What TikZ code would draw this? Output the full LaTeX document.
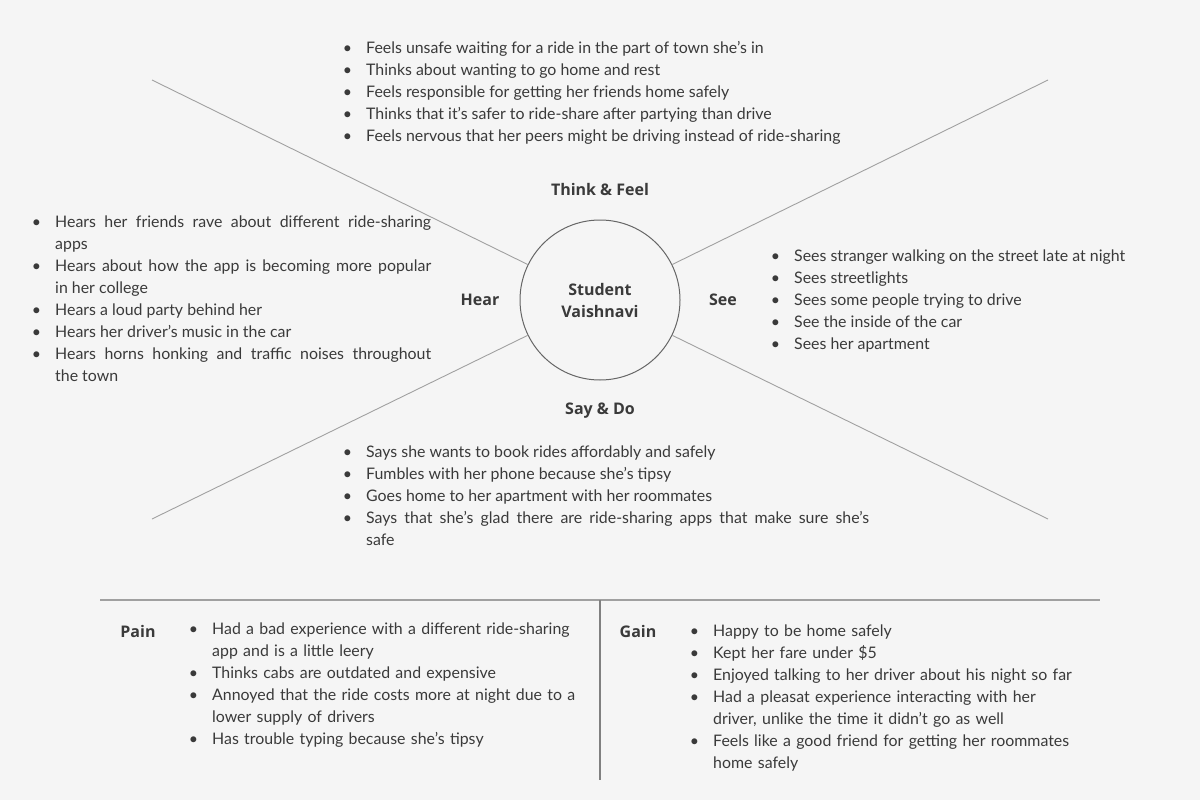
\documentclass[tikz,border=0pt]{standalone}
\usepackage{fontspec}
\setmainfont{Lato}
\newfontfamily\headfont{Open Sans}
\usepackage{enumitem}
\usetikzlibrary{positioning}

\definecolor{bgcol}{HTML}{F5F5F5}
\definecolor{inkcol}{HTML}{3A3A3A}
\definecolor{rulecol}{HTML}{A0A0A0}

\newenvironment{pts}{\begin{itemize}[label=\textbullet, leftmargin=21pt, labelsep=14pt,
  itemsep=0pt, topsep=0pt, parsep=0pt, partopsep=0pt]}{\end{itemize}}

\tikzset{
  ptlist/.style={anchor=north west, inner sep=0pt, text width=#1, text=inkcol,
    align=justify, font=\fontsize{15.9}{22}\selectfont},
  head/.style={text=inkcol, font=\headfont\bfseries\fontsize{16}{22}\selectfont},
  spoke/.style={draw=rulecol, line width=0.9pt}
}

\begin{document}
\begin{tikzpicture}[x=1pt, y=-1pt]
    \fill[bgcol] (0,0) rectangle (1200,800);
    \useasboundingbox (0,0) rectangle (1200,800);

    % centre
    \node[head, circle, draw=black!60, line width=1pt, minimum size=160pt, align=center]
        (persona) at (600,300) {Student\\Vaishnavi};

    % spokes
    \coordinate (tl) at (152,80);
    \coordinate (tr) at (1048,80);
    \coordinate (bl) at (152,519);
    \coordinate (br) at (1048,519);
    \foreach \c in {tl,tr,bl,br}
        \draw[spoke] (\c) -- (persona);

    % quadrant labels
    \node[head] (think) at (600,189) {Think \& Feel};
    \node[head] (hear) at (480,300) {Hear};
    \node[head] (see) at (723,300) {See};
    \node[head] (say) at (600,411) {Say \& Do};

    % quadrant lists
    \node[ptlist=600pt] (thinklist) at (345,31) {\begin{pts}
        \item Feels unsafe waiting for a ride in the part of town she’s in
        \item Thinks about wanting to go home and rest
        \item Feels responsible for getting her friends home safely
        \item Thinks that it’s safer to ride-share after partying than drive
        \item Feels nervous that her peers might be driving instead of ride-sharing
    \end{pts}};

    \node[ptlist=397pt] (hearlist) at (34,205) {\begin{pts}
        \item Hears her friends rave about different ride-sharing\linebreak apps
        \item Hears about how the app is becoming more popular\linebreak in her college
        \item Hears a loud party behind her
        \item Hears her driver’s music in the car
        \item Hears horns honking and traffic noises throughout\linebreak the town
    \end{pts}};

    \node[ptlist=400pt] (seelist) at (773,239) {\begin{pts}
        \item Sees stranger walking on the street late at night
        \item Sees streetlights
        \item Sees some people trying to drive
        \item See the inside of the car
        \item Sees her apartment
    \end{pts}};

    \node[ptlist=524pt] (saylist) at (345,435) {\begin{pts}
        \item Says she wants to book rides affordably and safely
        \item Fumbles with her phone because she’s tipsy
        \item Goes home to her apartment with her roommates
        \item Says that she’s glad there are ride-sharing apps that make sure she’s\linebreak safe
    \end{pts}};

    % pain / gain
    \draw[draw=rulecol, line width=1.6pt] (100,600) -- (1100,600);
    \draw[draw=black!50, line width=1.2pt] (600,600) -- (600,780);

    \node[head] (pain) at (138,631) {Pain};
    \node[head] (gain) at (638,631) {Gain};

    \node[ptlist=400pt, align=left] (painlist) at (191,612) {\begin{pts}
        \item Had a bad experience with a different ride-sharing\newline app and is a little leery
        \item Thinks cabs are outdated and expensive
        \item Annoyed that the ride costs more at night due to a\newline lower supply of drivers
        \item Has trouble typing because she’s tipsy
    \end{pts}};

    \node[ptlist=400pt, align=left] (gainlist) at (692,614) {\begin{pts}
        \item Happy to be home safely
        \item Kept her fare under \$5
        \item Enjoyed talking to her driver about his night so far
        \item Had a pleasat experience interacting with her\newline driver, unlike the time it didn’t go as well
        \item Feels like a good friend for getting her roommates\newline home safely
    \end{pts}};
\end{tikzpicture}
\end{document}
